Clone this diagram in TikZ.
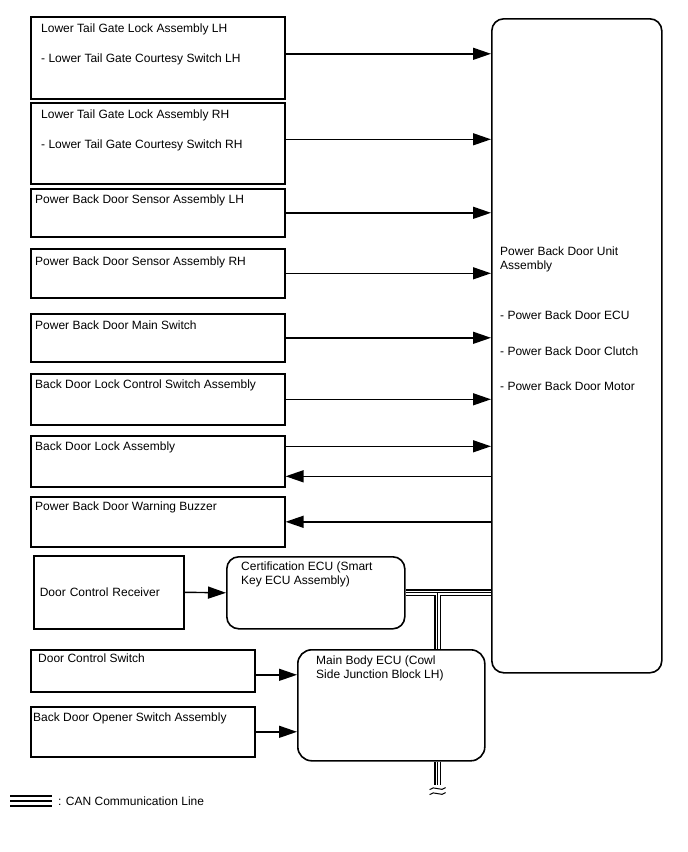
\documentclass[tikz,border=0pt]{standalone}
\usepackage{fontspec}
\setmainfont{Liberation Sans}
\usetikzlibrary{arrows.meta, positioning, calc}
\tikzset{
  box/.style={rectangle, draw, line width=1.6pt, anchor=north west,
    inner sep=0pt},
  ecubox/.style={box, rounded corners=12pt},
  boxtext/.style={anchor=north west, inner sep=0pt, align=left,
    font=\fontsize{12}{14}\selectfont},
  arrow/.style={-{Triangle[length=18pt, width=12pt]}, line width=1.4pt},
  canline/.style={draw=black, line width=1.2pt,
    preaction={draw=black, line width=6.8pt},
    preaction={draw=white, line width=4pt}},
  legline/.style={draw=black, line width=2.6pt,
    preaction={draw=black, line width=12.6pt},
    preaction={draw=white, line width=7.6pt}}
}
\begin{document}
\begin{tikzpicture}[x=1pt, y=-1pt]
  \useasboundingbox (0,0) rectangle (688,852);

  % Power back door unit
  \node[ecubox, minimum width=170, minimum height=654] (unit) at (491,18) {};
  \node[boxtext] (unittext) at ([xshift=9pt, yshift=-229pt]unit.north west)
    {Power Back Door Unit\\Assembly\\[36pt]- Power Back Door ECU\\[22pt]- Power Back Door Clutch\\[21pt]- Power Back Door Motor};

  % Input and output boxes
  \node[box, minimum width=254, minimum height=82,
    label={[boxtext, xshift=11pt, yshift=-7.5pt]north west:{Lower Tail Gate Lock Assembly LH\\[16pt]- Lower Tail Gate Courtesy Switch LH}}]
    (ltlh) at (30,16) {};
  \node[box, minimum width=254, minimum height=81,
    label={[boxtext, xshift=11pt, yshift=-7.5pt]north west:{Lower Tail Gate Lock Assembly RH\\[16pt]- Lower Tail Gate Courtesy Switch RH}}]
    (ltrh) at (30,102) {};
  \node[box, minimum width=254, minimum height=48,
    label={[boxtext, xshift=5pt, yshift=-7pt]north west:{Power Back Door Sensor Assembly LH}}]
    (senslh) at (30,188) {};
  \node[box, minimum width=254, minimum height=49,
    label={[boxtext, xshift=5pt, yshift=-8.5pt]north west:{Power Back Door Sensor Assembly RH}}]
    (sensrh) at (30,248) {};
  \node[box, minimum width=254, minimum height=48,
    label={[boxtext, xshift=5pt, yshift=-8pt]north west:{Power Back Door Main Switch}}]
    (mainsw) at (30,313) {};
  \node[box, minimum width=254, minimum height=51,
    label={[boxtext, xshift=5pt, yshift=-7pt]north west:{Back Door Lock Control Switch Assembly}}]
    (lockctl) at (30,373) {};
  \node[box, minimum width=254, minimum height=51,
    label={[boxtext, xshift=5pt, yshift=-7pt]north west:{Back Door Lock Assembly}}]
    (lock) at (30,435) {};
  \node[box, minimum width=254, minimum height=50,
    label={[boxtext, xshift=5pt, yshift=-6pt]north west:{Power Back Door Warning Buzzer}}]
    (buzzer) at (30,496) {};

  % Arrows to and from the unit
  \coordinate (ltlhout) at ([yshift=4pt]ltlh.east);
  \coordinate (ltrhout) at ([yshift=4pt]ltrh.east);
  \coordinate (lockin) at ([yshift=15pt]lock.east);
  \coordinate (lockout) at ([yshift=-15pt]lock.east);
  \draw[arrow] (ltlhout) -- (ltlhout -| unit.west);
  \draw[arrow] (ltrhout) -- (ltrhout -| unit.west);
  \draw[arrow] (senslh.east) -- (senslh.east -| unit.west);
  \draw[arrow] (sensrh.east) -- (sensrh.east -| unit.west);
  \draw[arrow] (mainsw.east) -- (mainsw.east -| unit.west);
  \draw[arrow] (lockctl.east) -- (lockctl.east -| unit.west);
  \draw[arrow] (lockin) -- (lockin -| unit.west);
  \draw[arrow] (lockout -| unit.west) -- (lockout);
  \draw[arrow] (buzzer.east -| unit.west) -- (buzzer.east);

  % Door control receiver and certification ECU
  \node[box, minimum width=150, minimum height=73, text width=138, align=left,
    inner sep=6pt, font=\fontsize{12}{14}\selectfont] (receiver) at (33,555)
    {Door Control Receiver};
  \node[ecubox, minimum width=178, minimum height=72,
    label={[boxtext, xshift=15pt, yshift=-6pt]north west:{Certification ECU (Smart\\Key ECU Assembly)}}]
    (cert) at (226,556) {};
  \draw[arrow] (receiver.east) -- (cert.west);

  % Main body ECU and switches
  \node[ecubox, rounded corners=14pt, minimum width=187, minimum height=111,
    label={[boxtext, xshift=19pt, yshift=-7pt]north west:{Main Body ECU (Cowl\\Side Junction Block LH)}}]
    (body) at (297,649) {};
  \node[box, minimum width=224, minimum height=42,
    label={[boxtext, xshift=8pt, yshift=-5pt]north west:{Door Control Switch}}]
    (doorsw) at (30,649) {};
  \node[box, minimum width=224, minimum height=50,
    label={[boxtext, xshift=3pt, yshift=-7pt]north west:{Back Door Opener Switch Assembly}}]
    (opener) at (30,706) {};
  \coordinate (doorswout) at ([yshift=-4pt]doorsw.east);
  \draw[arrow] (doorswout) -- (doorswout -| body.west);
  \draw[arrow] (opener.east) -- (opener.east -| body.west);

  % CAN communication line
  \coordinate (canjoin) at ([xshift=32pt]cert.east);
  \draw[canline] (cert.east) -- (cert.east -| unit.west)
    (canjoin) -- (canjoin |- body.north);
  \coordinate (canend) at ($(canjoin |- body.south)+(0,23)$);
  \draw[canline] (canjoin |- body.south) -- (canend);
  \draw[line width=1pt] ($(canend)+(-8,5)$) .. controls ($(canend)+(-4,0)$) and ($(canend)+(4,8)$) .. ($(canend)+(8,3)$);
  \draw[line width=1pt] ($(canend)+(-8,10)$) .. controls ($(canend)+(-4,5)$) and ($(canend)+(4,13)$) .. ($(canend)+(8,8)$);

  % Legend
  \coordinate (legstart) at (10,801);
  \node[boxtext, anchor=west] (legtext) at (58,801) {: CAN Communication Line};
  \draw[legline] (legstart) -- ([xshift=-6pt]legtext.west);
\end{tikzpicture}
\end{document}
